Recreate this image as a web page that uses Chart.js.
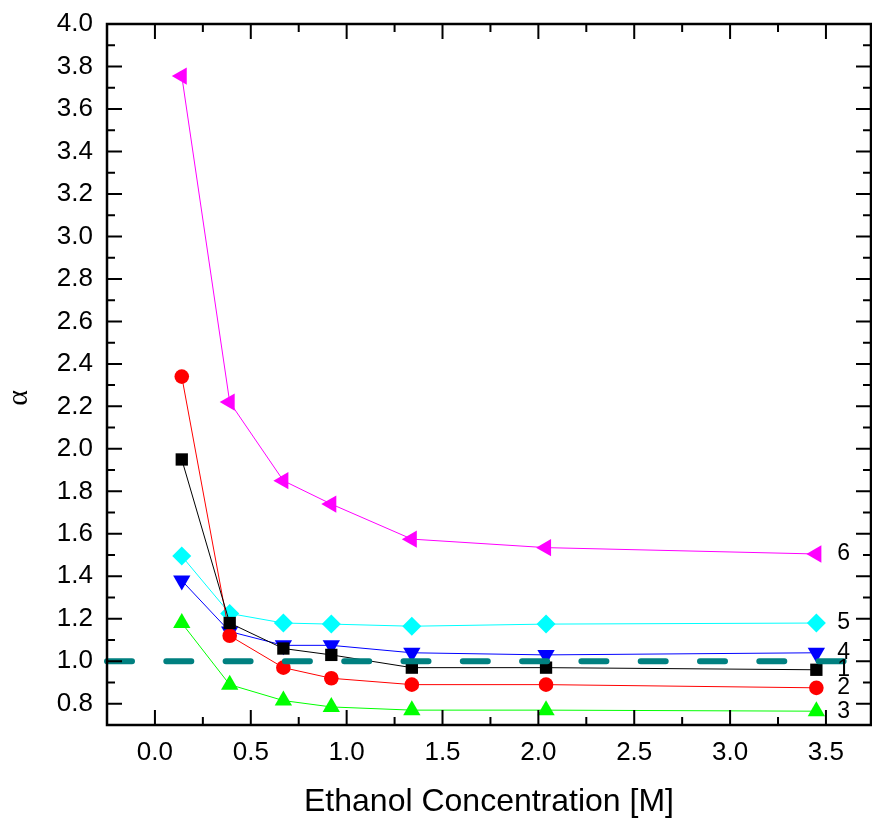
<!DOCTYPE html>
<html>
<head>
<meta charset="utf-8">
<title>Ethanol Concentration</title>
<script src="https://cdn.jsdelivr.net/npm/chart.js@4.4.1/dist/chart.umd.min.js"></script>
<style>
  html, body { margin: 0; padding: 0; background: #fff; }
  #grafico { display: block; }
</style>
</head>
<body>
<canvas id="grafico" width="872" height="821"></canvas>
<script>
const concentracoes = [0.14, 0.39, 0.67, 0.92, 1.34, 2.04, 3.45];

const serie1 = [1.95, 1.18, 1.06, 1.03, 0.97, 0.97, 0.96];
const serie2 = [2.34, 1.12, 0.97, 0.92, 0.89, 0.89, 0.875];
const serie3 = [1.18, 0.89, 0.815, 0.785, 0.77, 0.77, 0.765];
const serie4 = [1.38, 1.14, 1.075, 1.075, 1.04, 1.03, 1.04];
const serie5 = [1.495, 1.225, 1.18, 1.175, 1.165, 1.175, 1.18];
const serie6 = [3.755, 2.22, 1.85, 1.74, 1.575, 1.535, 1.505];

const nomesSeries = ["1", "2", "3", "4", "5", "6"];
const linhaReferencia = [1.0, 1.0];

const ticksX = [0.0, 0.5, 1.0, 1.5, 2.0, 2.5, 3.0, 3.5];
const ticksY = [0.8, 1.0, 1.2, 1.4, 1.6, 1.8, 2.0, 2.2, 2.4, 2.6, 2.8, 3.0, 3.2, 3.4, 3.6, 3.8, 4.0];

const xMin = -0.25, xMax = 3.735;
const yMin = 0.7, yMax = 4.0;

const fonte = "'Liberation Sans', Arial, sans-serif";

function pontos(valores) {
  return valores.map((v, i) => ({ x: concentracoes[i], y: v }));
}

const estilos = [
  { dados: serie1, cor: "#000000", forma: "rect", raio: 8.7, rot: 0 },
  { dados: serie2, cor: "#ff0000", forma: "circle", raio: 7.3, rot: 0 },
  { dados: serie3, cor: "#00ff00", forma: "triangle", raio: 10, rot: 0 },
  { dados: serie4, cor: "#0000ff", forma: "triangle", raio: 10, rot: 180 },
  { dados: serie5, cor: "#00ffff", forma: "rectRot", raio: 9.5, rot: 0 },
  { dados: serie6, cor: "#ff00ff", forma: "triangle", raio: 10, rot: -90 }
];

const datasets = [{
  label: "alpha = 1",
  data: [{ x: xMin, y: linhaReferencia[0] }, { x: xMax, y: linhaReferencia[1] }],
  borderColor: "#008080",
  borderWidth: 6,
  borderDash: [25, 34.3],
  borderCapStyle: "round",
  pointRadius: 0,
  clip: false,
  order: 0
}];

estilos.forEach((e, i) => {
  datasets.push({
    label: nomesSeries[i],
    data: pontos(e.dados),
    borderColor: e.cor,
    backgroundColor: e.cor,
    borderWidth: 1,
    pointStyle: e.forma,
    pointRadius: e.raio,
    pointRotation: e.rot,
    pointBorderWidth: 0,
    pointBackgroundColor: e.cor,
    order: i + 1
  });
});

// moldura com ticks para dentro, igual ao Origin
const moldura = {
  id: "moldura",
  afterDatasetsDraw(chart) {
    const { ctx, chartArea: a, scales } = chart;
    const sx = scales.x, sy = scales.y;
    ctx.save();
    ctx.strokeStyle = "#000";
    ctx.lineWidth = 2;
    ctx.beginPath();
    ticksX.forEach(v => {
      const px = sx.getPixelForValue(v);
      ctx.moveTo(px, a.bottom); ctx.lineTo(px, a.bottom - 15);
      ctx.moveTo(px, a.top); ctx.lineTo(px, a.top + 15);
      const m = v + 0.25;
      if (m < xMax) {
        const pm = sx.getPixelForValue(m);
        ctx.moveTo(pm, a.bottom); ctx.lineTo(pm, a.bottom - 8);
        ctx.moveTo(pm, a.top); ctx.lineTo(pm, a.top + 8);
      }
    });
    ticksY.forEach(v => {
      const py = sy.getPixelForValue(v);
      ctx.moveTo(a.left, py); ctx.lineTo(a.left + 15, py);
      ctx.moveTo(a.right, py); ctx.lineTo(a.right - 15, py);
      const m = v - 0.1;
      if (m > yMin) {
        const pm = sy.getPixelForValue(m);
        ctx.moveTo(a.left, pm); ctx.lineTo(a.left + 8, pm);
        ctx.moveTo(a.right, pm); ctx.lineTo(a.right - 8, pm);
      }
    });
    ctx.stroke();
    ctx.lineWidth = 2.5;
    ctx.strokeRect(a.left, a.top, a.right - a.left, a.bottom - a.top);

    // numeros das curvas ao lado do ultimo ponto
    ctx.fillStyle = "#000";
    ctx.font = "23px " + fonte;
    ctx.textAlign = "left";
    ctx.textBaseline = "middle";
    estilos.forEach((e, i) => {
      const ult = e.dados.length - 1;
      const px = sx.getPixelForValue(concentracoes[ult]) + 21;
      const py = sy.getPixelForValue(e.dados[ult]);
      ctx.fillText(nomesSeries[i], px, py);
    });

    // titulo do eixo y
    ctx.save();
    ctx.translate(19, 398);
    ctx.rotate(-Math.PI / 2);
    ctx.textAlign = "center";
    ctx.font = "30px 'Liberation Serif', 'DejaVu Serif', serif";
    ctx.fillText("\u03b1", 0, 0);
    ctx.restore();
    ctx.restore();
  }
};

new Chart(document.getElementById("grafico"), {
  type: "line",
  data: { datasets },
  options: {
    responsive: false,
    devicePixelRatio: 1,
    animation: false,
    layout: { autoPadding: false, padding: { top: 24, right: 1, left: 0, bottom: 0 } },
    plugins: { legend: { display: false }, tooltip: { enabled: false } },
    scales: {
      x: {
        type: "linear",
        min: xMin,
        max: xMax,
        afterBuildTicks: s => { s.ticks = ticksX.map(v => ({ value: v })); },
        afterFit: s => { s.height = 96; s.paddingLeft = 0; s.paddingRight = 0; },
        grid: { display: false, drawTicks: false },
        border: { display: false },
        ticks: {
          padding: 12,
          color: "#000",
          font: { family: fonte, size: 26 },
          maxRotation: 0,
          callback: v => Number(v).toFixed(1)
        },
        title: {
          display: true,
          text: "Ethanol Concentration [M]",
          color: "#000",
          font: { family: fonte, size: 32 },
          padding: { top: 0, bottom: 0 }
        }
      },
      y: {
        type: "linear",
        min: yMin,
        max: yMax,
        afterBuildTicks: s => { s.ticks = ticksY.map(v => ({ value: v })); },
        afterFit: s => { s.width = 107; s.paddingTop = 0; s.paddingBottom = 0; },
        grid: { display: false, drawTicks: false },
        border: { display: false },
        ticks: {
          padding: 14,
          color: "#000",
          font: { family: fonte, size: 26 },
          callback: v => Number(v).toFixed(1)
        }
      }
    }
  },
  plugins: [moldura]
});
</script>
</body>
</html>
